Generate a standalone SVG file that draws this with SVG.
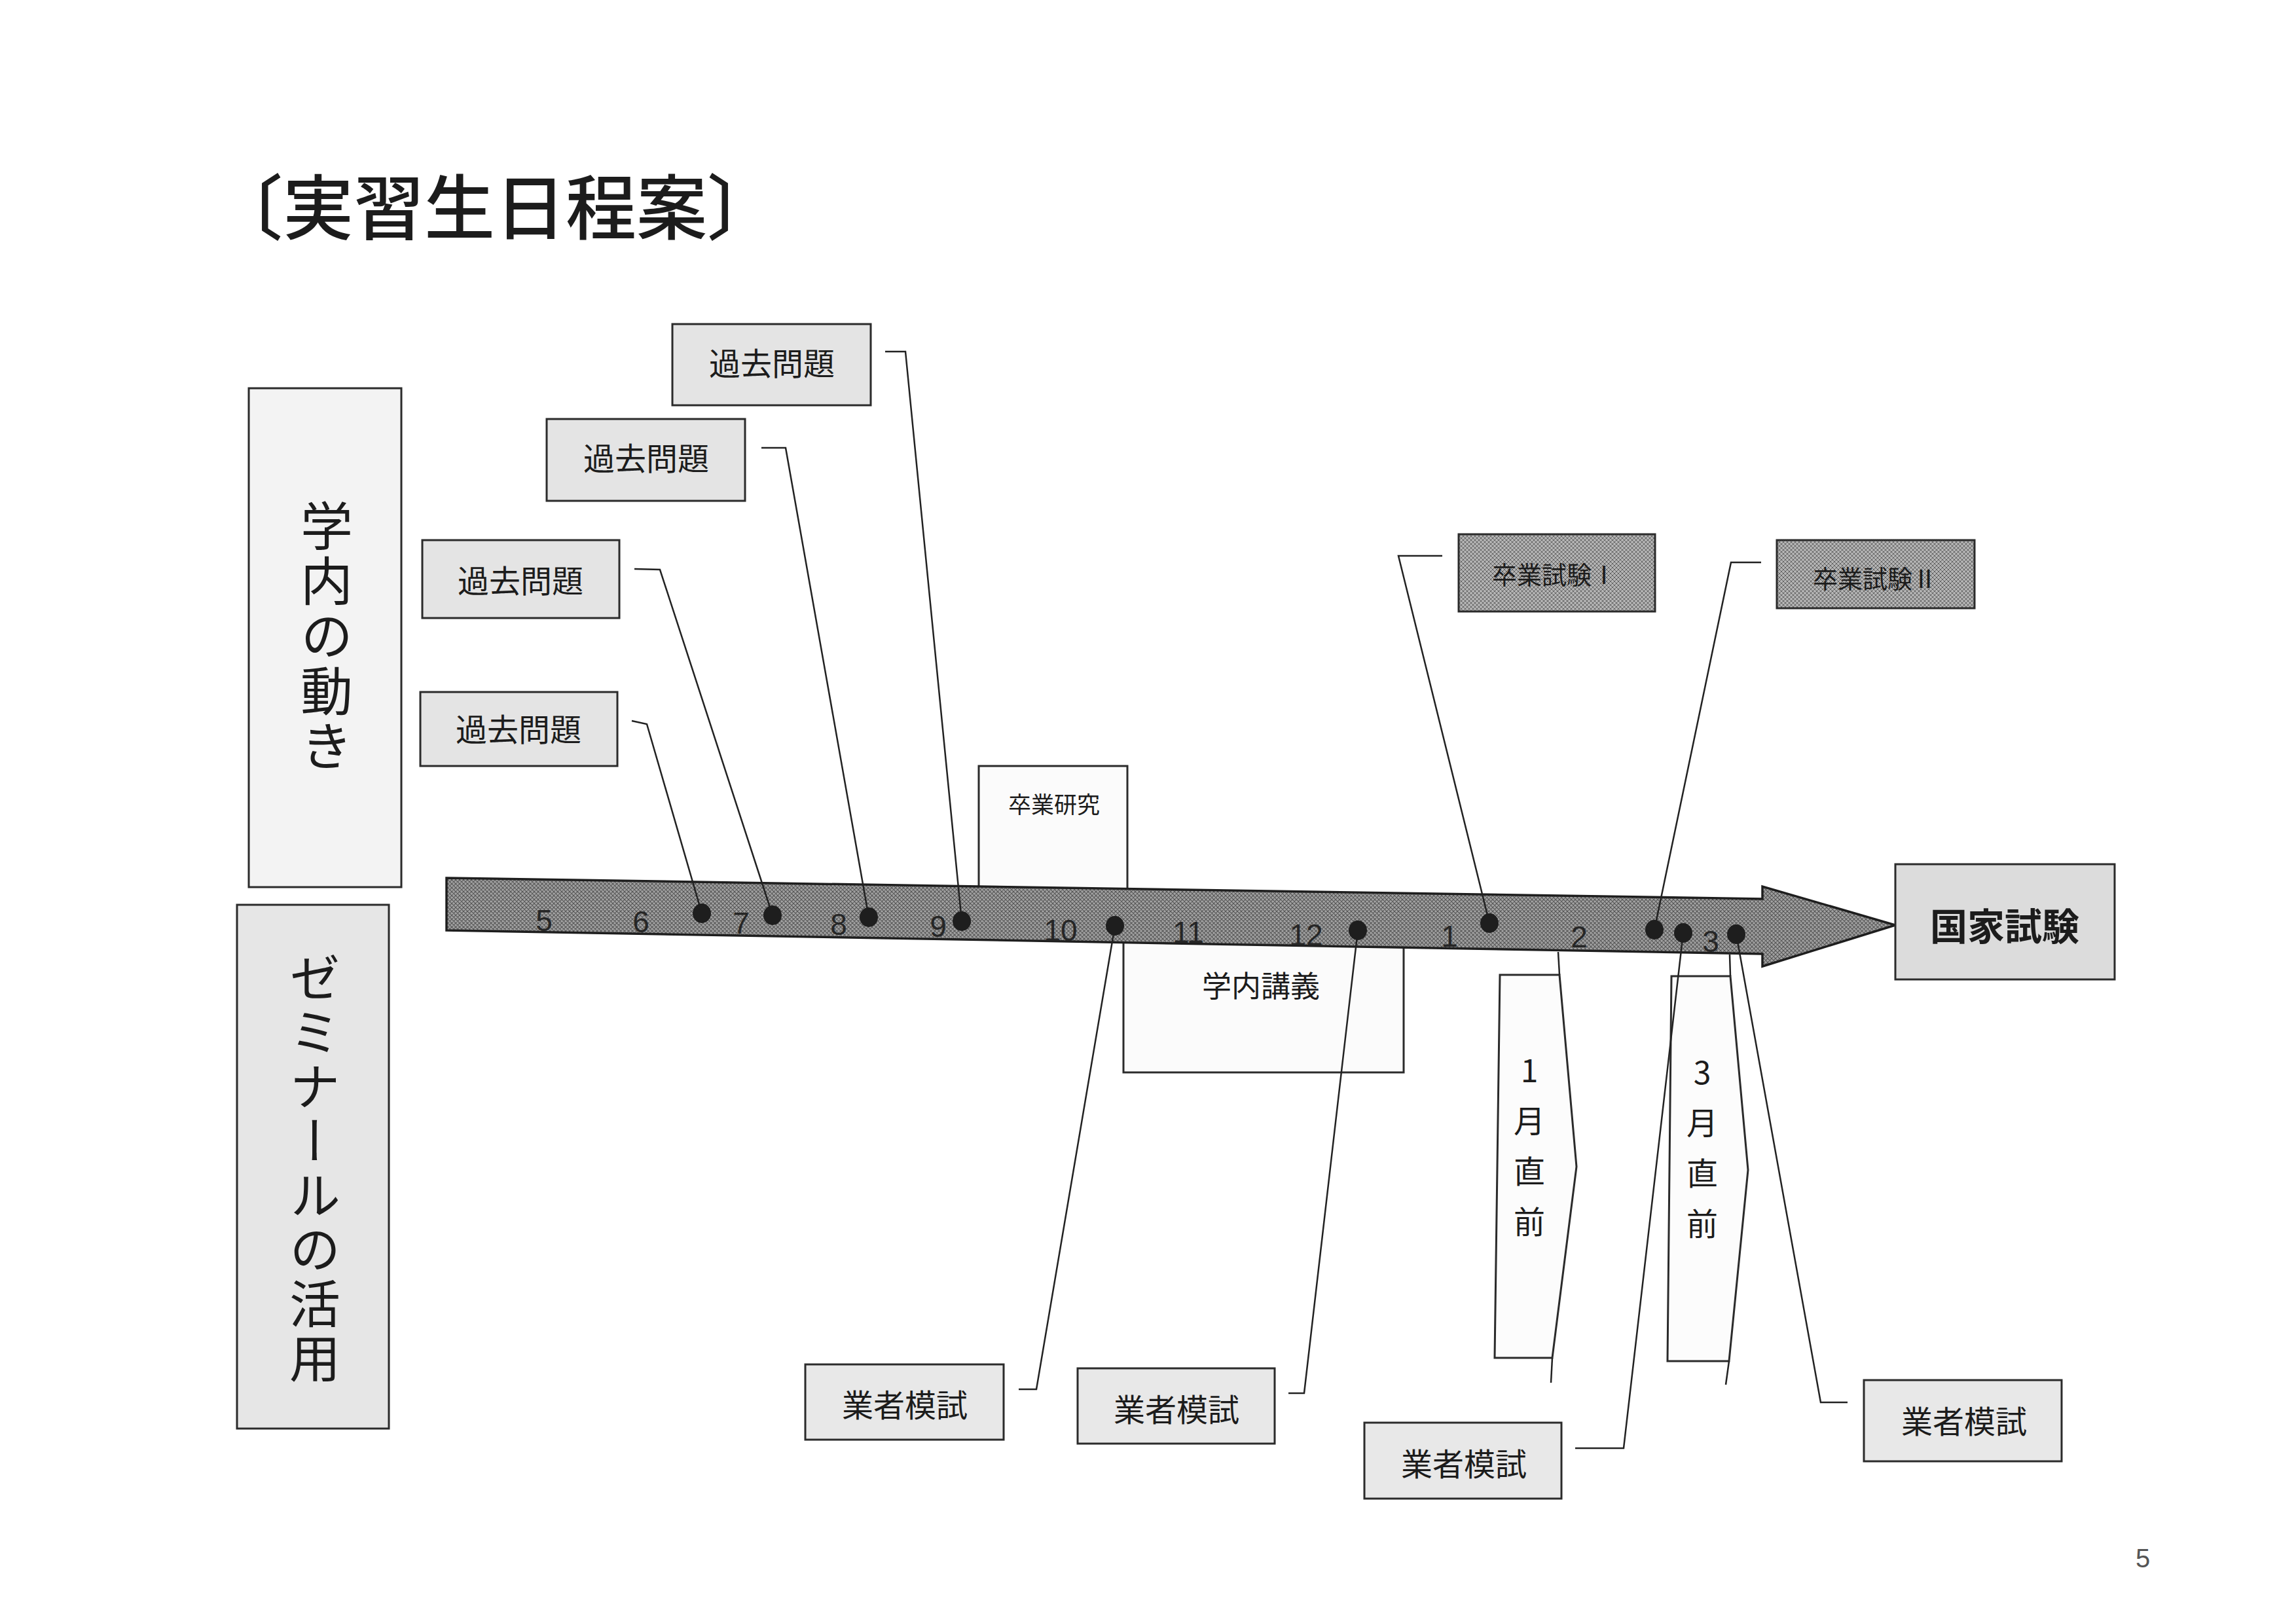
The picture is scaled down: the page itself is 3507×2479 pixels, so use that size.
<svg xmlns="http://www.w3.org/2000/svg" width="3507" height="2479" viewBox="0 0 3507 2479">
<style>
.jp{font-family:"Noto Sans CJK JP","Noto Sans CJK SC",sans-serif;fill:#1c1c1c}
.box{stroke:#2b2b2b;stroke-width:3}
.lbl{text-anchor:middle;dominant-baseline:central}
.num{font-family:"Liberation Sans",Arial,sans-serif;font-size:46px;fill:#262626;text-anchor:middle}
.con{fill:none;stroke:#222;stroke-width:2.5}
.dot{fill:#1e1e1e}
.vt{writing-mode:vertical-rl;text-orientation:upright}
</style>
<defs>
<pattern id="hatch" width="6" height="6" patternUnits="userSpaceOnUse">
<rect width="6" height="6" fill="#a2a2a2"/>
<path d="M0,6 L6,0 M-1,1 L1,-1 M5,7 L7,5 M0,0 L6,6 M-1,5 L1,7 M5,-1 L7,1" stroke="#555" stroke-width="1.1"/>
</pattern>
<pattern id="hatch2" width="6" height="6" patternUnits="userSpaceOnUse">
<rect width="6" height="6" fill="#b4b4b4"/>
<path d="M0,6 L6,0 M-1,1 L1,-1 M5,7 L7,5 M0,0 L6,6 M-1,5 L1,7 M5,-1 L7,1" stroke="#666" stroke-width="1"/>
</pattern>
</defs>
<rect width="3507" height="2479" fill="#ffffff"/>

<g id="title">
<text class="jp" x="324" y="357" font-size="108" font-weight="500" fill="#2a2a2a">〔実習生日程案〕</text>
</g>

<g id="side-gakunai">
<rect class="box" x="380" y="593" width="233" height="762" fill="#f3f3f3"/>
<text class="jp vt" x="499" y="763" font-size="80" letter-spacing="4">学内の動き</text>
</g>
<g id="side-seminar">
<rect class="box" x="362" y="1382" width="232" height="800" fill="#e6e6e6"/>
<text class="jp vt" x="481" y="1454" font-size="78" letter-spacing="5">ゼミナールの活用</text>
</g>

<g id="box-sotsuken">
<rect class="box" x="1495" y="1170" width="227" height="230" fill="#fbfbfb"/>
<text class="jp lbl" x="1610" y="1226" font-size="35">卒業研究</text>
</g>
<g id="box-kougi">
<rect class="box" x="1716" y="1400" width="428" height="238" fill="#fbfbfb"/>
<text class="jp lbl" x="1926" y="1503" font-size="45">学内講義</text>
</g>

<g id="timeline">
<polygon points="682,1341 2692,1373 2692,1354 2895,1413 2692,1476 2692,1457 682,1421" fill="url(#hatch)" stroke="#1e1e1e" stroke-width="3.5"/>
<text class="num" x="831" y="1422">5</text>
<text class="num" x="979" y="1424">6</text>
<text class="num" x="1132" y="1426">7</text>
<text class="num" x="1281" y="1428">8</text>
<text class="num" x="1433" y="1431">9</text>
<text class="num" x="1620" y="1437">10</text>
<text class="num" x="1815" y="1440">11</text>
<text class="num" x="1995" y="1444">12</text>
<text class="num" x="2214" y="1446">1</text>
<text class="num" x="2412" y="1447">2</text>
<text class="num" x="2613" y="1454">3</text>
</g>

<g id="box-kako1">
<rect class="box" x="1027" y="495" width="303" height="124" fill="#e4e4e4"/>
<text class="jp lbl" x="1179" y="552" font-size="48">過去問題</text>
</g>
<g id="box-kako2">
<rect class="box" x="835" y="640" width="303" height="125" fill="#e4e4e4"/>
<text class="jp lbl" x="987" y="697" font-size="48">過去問題</text>
</g>
<g id="box-kako3">
<rect class="box" x="645" y="825" width="301" height="119" fill="#e4e4e4"/>
<text class="jp lbl" x="795" y="884" font-size="48">過去問題</text>
</g>
<g id="box-kako4">
<rect class="box" x="642" y="1057" width="301" height="113" fill="#e4e4e4"/>
<text class="jp lbl" x="792" y="1111" font-size="48">過去問題</text>
</g>

<g id="box-shiken1">
<rect class="box" x="2228" y="816" width="300" height="118" fill="url(#hatch2)"/>
<text class="jp lbl" x="2374" y="875" font-size="38">卒業試験Ⅰ</text>
</g>
<g id="box-shiken2">
<rect class="box" x="2714" y="825" width="302" height="104" fill="url(#hatch2)"/>
<text class="jp lbl" x="2864" y="881" font-size="38">卒業試験Ⅱ</text>
</g>

<g id="box-kokka">
<rect class="box" x="2895" y="1320" width="335" height="176" fill="#dcdcdc"/>
<text class="jp lbl" x="3062" y="1411" font-size="57" font-weight="bold">国家試験</text>
</g>

<g id="box-jan">
<polygon class="box" points="2291,1489 2382,1489 2408,1782 2371,2074 2283,2074" fill="#fcfcfc" stroke-width="2.5"/>
<text class="jp vt" x="2336" y="1611" font-size="48" letter-spacing="29">1月直前</text>
</g>
<g id="box-mar">
<polygon class="box" points="2553,1491 2643,1491 2670,1787 2641,2079 2547,2079" fill="#fcfcfc" stroke-width="2.5"/>
<text class="jp vt" x="2600" y="1614" font-size="48" letter-spacing="29">3月直前</text>
</g>

<g id="box-gyosha1">
<rect class="box" x="1230" y="2084" width="303" height="115" fill="#e8e8e8"/>
<text class="jp lbl" x="1382" y="2143" font-size="48">業者模試</text>
</g>
<g id="box-gyosha2">
<rect class="box" x="1646" y="2090" width="301" height="115" fill="#e8e8e8"/>
<text class="jp lbl" x="1797" y="2150" font-size="48">業者模試</text>
</g>
<g id="box-gyosha3">
<rect class="box" x="2084" y="2173" width="301" height="116" fill="#e8e8e8"/>
<text class="jp lbl" x="2236" y="2233" font-size="48">業者模試</text>
</g>
<g id="box-gyosha4">
<rect class="box" x="2847" y="2108" width="302" height="124" fill="#e8e8e8"/>
<text class="jp lbl" x="3000" y="2168" font-size="48">業者模試</text>
</g>

<g id="connectors">
<polyline class="con" points="1352,537 1383,537 1469,1407"/>
<polyline class="con" points="1163,684 1200,684 1327,1401"/>
<polyline class="con" points="969,869 1008,870 1180,1398"/>
<polyline class="con" points="965,1101 988,1106 1072,1395"/>
<polyline class="con" points="2203,849 2136,849 2275,1410"/>
<polyline class="con" points="2690,859 2644,859 2527,1420"/>
<polyline class="con" points="1703,1414 1583,2122 1556,2122"/>
<polyline class="con" points="2074,1421 1992,2128 1968,2128"/>
<polyline class="con" points="2571,1425 2480,2212 2406,2212"/>
<polyline class="con" points="2652,1427 2781,2142 2822,2142"/>
<line class="con" x1="2380" y1="1454" x2="2382" y2="1489"/>
<line class="con" x1="2371" y1="2074" x2="2369" y2="2112"/>
<line class="con" x1="2642" y1="1458" x2="2643" y2="1491"/>
<line class="con" x1="2641" y1="2079" x2="2636" y2="2115"/>
</g>

<g id="dots">
<ellipse class="dot" cx="1072" cy="1395" rx="14" ry="15"/>
<ellipse class="dot" cx="1180" cy="1398" rx="14" ry="15"/>
<ellipse class="dot" cx="1327" cy="1401" rx="14" ry="15"/>
<ellipse class="dot" cx="1469" cy="1407" rx="14" ry="15"/>
<ellipse class="dot" cx="1703" cy="1414" rx="14" ry="15"/>
<ellipse class="dot" cx="2074" cy="1421" rx="14" ry="15"/>
<ellipse class="dot" cx="2275" cy="1410" rx="14" ry="15"/>
<ellipse class="dot" cx="2527" cy="1420" rx="14" ry="15"/>
<ellipse class="dot" cx="2571" cy="1425" rx="14" ry="15"/>
<ellipse class="dot" cx="2652" cy="1427" rx="14" ry="15" fill="#3a3a3a"/>
</g>

<g id="page-number">
<text x="3273" y="2394" font-family="'Liberation Sans',Arial,sans-serif" font-size="40" fill="#555" text-anchor="middle">5</text>
</g>
</svg>
